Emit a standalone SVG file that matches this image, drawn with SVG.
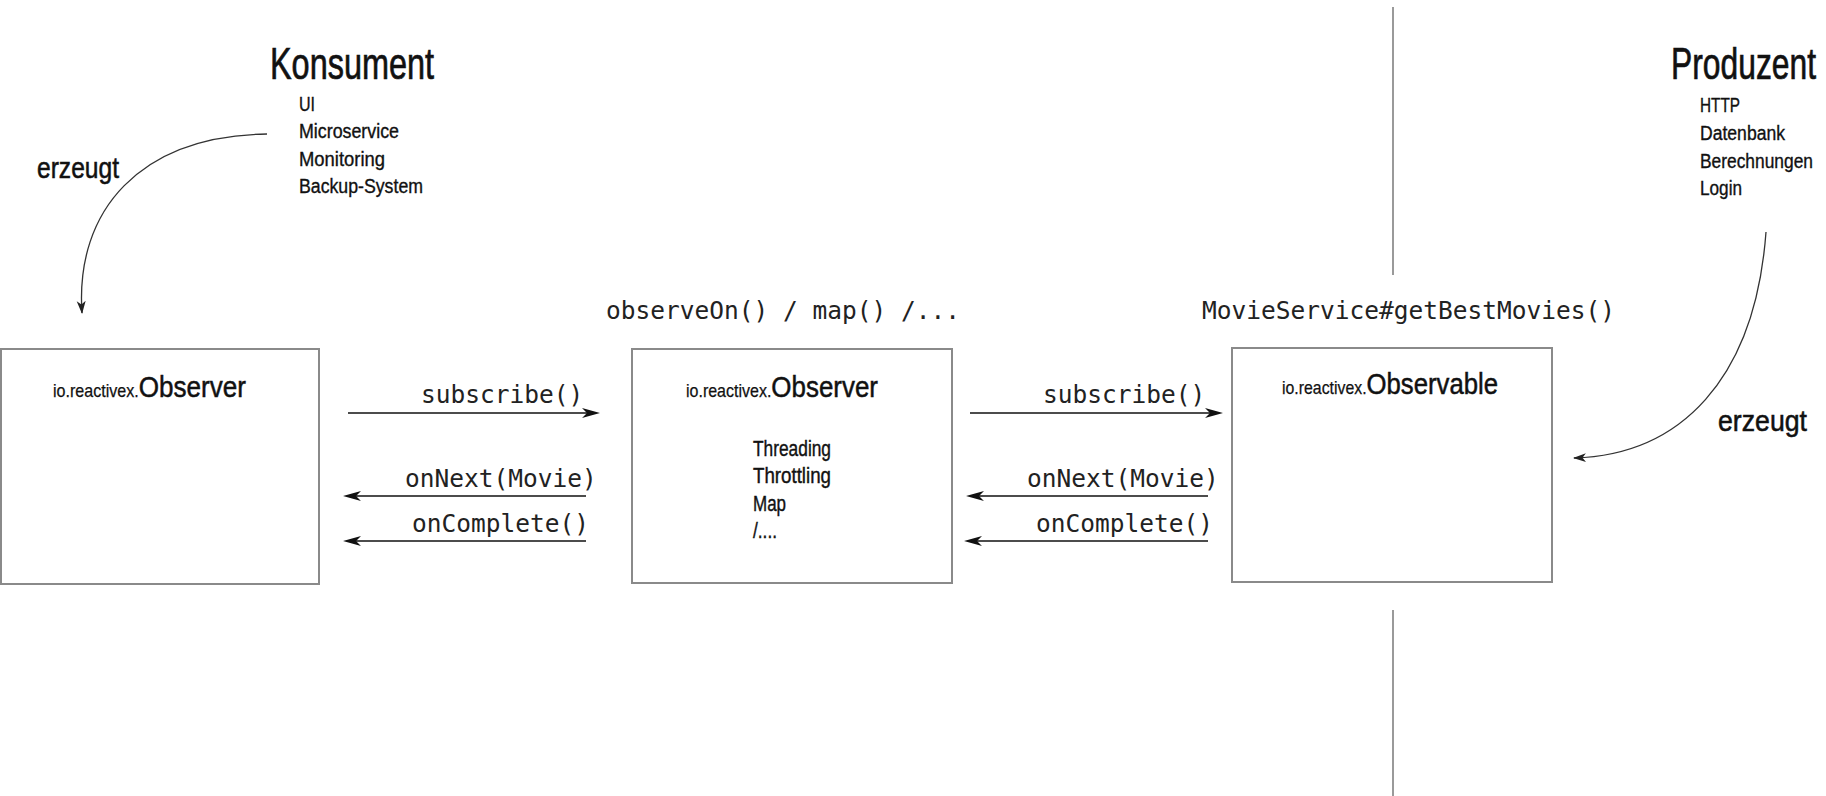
<svg xmlns="http://www.w3.org/2000/svg" width="1826" height="796" viewBox="0 0 1826 796">
  <style>
    .box { fill: #fff; stroke: #8a8a8a; stroke-width: 2; }
    .cond { font-family: "Liberation Sans Narrow", "Liberation Sans", "DejaVu Sans", sans-serif; fill: #111; }
    .head { font-size: 44px; stroke: #111; stroke-width: 0.7; }
    .item { font-size: 19.5px; stroke: #111; stroke-width: 0.35; }
    .title { stroke: #111; stroke-width: 0.5; }
    .pkg { font-size: 18.5px; stroke-width: 0.25; }
    .cls { font-size: 30px; }
    .inner { font-size: 22px; stroke: #111; stroke-width: 0.4; }
    .verb { font-size: 30px; stroke: #111; stroke-width: 0.55; }
    .mono { font-family: "DejaVu Sans Mono", "Liberation Mono", monospace; font-size: 24.5px; fill: #222; }
    .msg { stroke: #111; stroke-width: 1.6; fill: none; marker-end: url(#stealth); }
    .bend { stroke: #333; stroke-width: 1.3; fill: none; marker-end: url(#stealth-small); }
    .divider { stroke: #9a9a9a; stroke-width: 2; }
  </style>
  <defs>
    <marker id="stealth" markerUnits="userSpaceOnUse" markerWidth="20" markerHeight="12" refX="10" refY="5" orient="auto">
      <path d="M0,0 L18,5 L0,10 L5,5 z" fill="#111"/>
    </marker>
    <marker id="stealth-small" markerUnits="userSpaceOnUse" markerWidth="14" markerHeight="10" refX="12" refY="4.5" orient="auto">
      <path d="M0,0 L13,4.5 L0,9 L3.5,4.5 z" fill="#222"/>
    </marker>
  </defs>

  <rect width="1826" height="796" fill="#fff"/>

  <!-- divider between consumer and producer side -->
  <g id="divider">
    <line class="divider" x1="1393" y1="7" x2="1393" y2="275"/>
    <line class="divider" x1="1393" y1="610" x2="1393" y2="796"/>
  </g>

  <!-- consumer side -->
  <g id="konsument">
    <text class="cond head" x="270" y="79" textLength="164" lengthAdjust="spacingAndGlyphs">Konsument</text>
    <text class="cond item" x="299" y="111" textLength="16" lengthAdjust="spacingAndGlyphs">UI</text>
    <text class="cond item" x="299" y="138" textLength="100" lengthAdjust="spacingAndGlyphs">Microservice</text>
    <text class="cond item" x="299" y="166" textLength="86" lengthAdjust="spacingAndGlyphs">Monitoring</text>
    <text class="cond item" x="299" y="193" textLength="124" lengthAdjust="spacingAndGlyphs">Backup-System</text>
  </g>

  <!-- producer side -->
  <g id="produzent">
    <text class="cond head" x="1671" y="79" textLength="145" lengthAdjust="spacingAndGlyphs">Produzent</text>
    <text class="cond item" x="1700" y="112" textLength="40" lengthAdjust="spacingAndGlyphs">HTTP</text>
    <text class="cond item" x="1700" y="140" textLength="85" lengthAdjust="spacingAndGlyphs">Datenbank</text>
    <text class="cond item" x="1700" y="168" textLength="113" lengthAdjust="spacingAndGlyphs">Berechnungen</text>
    <text class="cond item" x="1700" y="195" textLength="42" lengthAdjust="spacingAndGlyphs">Login</text>
  </g>

  <!-- subscriber at the consumer end -->
  <g id="observer-consumer">
    <rect class="box" x="1" y="349" width="318" height="235"/>
    <text class="cond title" x="53" y="397" textLength="193" lengthAdjust="spacingAndGlyphs"><tspan class="pkg">io.reactivex.</tspan><tspan class="cls">Observer</tspan></text>
  </g>

  <!-- operator chain in the middle -->
  <g id="observer-operator">
    <text class="mono" x="606" y="319">observeOn() / map() /...</text>
    <rect class="box" x="632" y="349" width="320" height="234"/>
    <text class="cond title" x="686" y="397" textLength="192" lengthAdjust="spacingAndGlyphs"><tspan class="pkg">io.reactivex.</tspan><tspan class="cls">Observer</tspan></text>
    <text class="cond inner" x="753" y="456" textLength="78" lengthAdjust="spacingAndGlyphs">Threading</text>
    <text class="cond inner" x="753" y="483" textLength="78" lengthAdjust="spacingAndGlyphs">Throttling</text>
    <text class="cond inner" x="753" y="511" textLength="33" lengthAdjust="spacingAndGlyphs">Map</text>
    <text class="cond inner" x="753" y="538" textLength="24" lengthAdjust="spacingAndGlyphs">/....</text>
  </g>

  <!-- source observable -->
  <g id="observable">
    <text class="mono" x="1202" y="319">MovieService#getBestMovies()</text>
    <rect class="box" x="1232" y="348" width="320" height="234"/>
    <text class="cond title" x="1282" y="394" textLength="216" lengthAdjust="spacingAndGlyphs"><tspan class="pkg">io.reactivex.</tspan><tspan class="cls">Observable</tspan></text>
  </g>

  <!-- messages and "creates" relations -->
  <g id="connectors">
    <line class="msg" x1="348" y1="413" x2="592" y2="413"/>
    <text class="mono" x="421" y="403">subscribe()</text>
    <line class="msg" x1="586" y1="496" x2="351" y2="496"/>
    <text class="mono" x="405" y="487">onNext(Movie)</text>
    <line class="msg" x1="586" y1="541" x2="351" y2="541"/>
    <text class="mono" x="412" y="532">onComplete()</text>

    <line class="msg" x1="970" y1="413" x2="1215" y2="413"/>
    <text class="mono" x="1043" y="403">subscribe()</text>
    <line class="msg" x1="1208" y1="496" x2="974" y2="496"/>
    <text class="mono" x="1027" y="487">onNext(Movie)</text>
    <line class="msg" x1="1208" y1="541" x2="972" y2="541"/>
    <text class="mono" x="1036" y="532">onComplete()</text>

    <path class="bend" d="M267,134 C140,136 75,210 82,313"/>
    <text class="cond verb" x="37" y="178" textLength="82" lengthAdjust="spacingAndGlyphs">erzeugt</text>
    <path class="bend" d="M1766,232 C1755,380 1680,455 1574,458"/>
    <text class="cond verb" x="1718" y="431" textLength="89" lengthAdjust="spacingAndGlyphs">erzeugt</text>
  </g>
</svg>
